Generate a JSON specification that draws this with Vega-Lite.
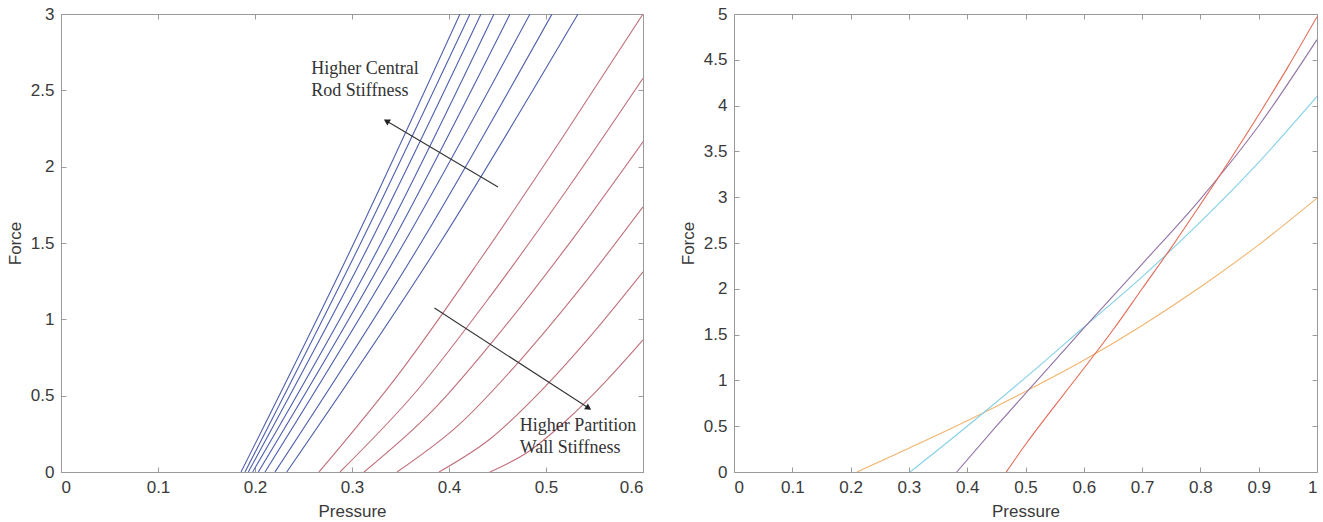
{
  "$schema": "https://vega.github.io/schema/vega-lite/v6.json",
  "background": "white",
  "padding": {"left": 6, "top": 5, "right": 3, "bottom": 0},
  "spacing": 35,
  "resolve": {"scale": {"color": "independent", "x": "independent", "y": "independent"}},
  "config": {
    "font": "Liberation Sans",
    "view": {"stroke": null},
    "axis": {
      "grid": false,
      "domainColor": "#9a9a9a",
      "tickColor": "#9a9a9a",
      "tickSize": -5,
      "labelPadding": 12,
      "labelFont": "Liberation Sans",
      "labelFontSize": 17,
      "labelColor": "#3a3a3a",
      "titleFont": "Liberation Sans",
      "titleFontSize": 17,
      "titleFontWeight": "normal",
      "titleColor": "#3a3a3a"
    }
  },
  "datasets": {
    "left": [
      {"s": "B1", "g": "rod", "x": 0.1856, "F": 0}, {"s": "B1", "g": "rod", "x": 0.302, "F": 1.5}, {"s": "B1", "g": "rod", "x": 0.4113, "F": 3},
      {"s": "B2", "g": "rod", "x": 0.1897, "F": 0}, {"s": "B2", "g": "rod", "x": 0.309, "F": 1.5}, {"s": "B2", "g": "rod", "x": 0.4216, "F": 3},
      {"s": "B3", "g": "rod", "x": 0.1931, "F": 0}, {"s": "B3", "g": "rod", "x": 0.3186, "F": 1.5}, {"s": "B3", "g": "rod", "x": 0.433, "F": 3},
      {"s": "B4", "g": "rod", "x": 0.1976, "F": 0}, {"s": "B4", "g": "rod", "x": 0.33, "F": 1.5}, {"s": "B4", "g": "rod", "x": 0.4464, "F": 3},
      {"s": "B5", "g": "rod", "x": 0.2034, "F": 0}, {"s": "B5", "g": "rod", "x": 0.341, "F": 1.5}, {"s": "B5", "g": "rod", "x": 0.4629, "F": 3},
      {"s": "B6", "g": "rod", "x": 0.2103, "F": 0}, {"s": "B6", "g": "rod", "x": 0.3536, "F": 1.5}, {"s": "B6", "g": "rod", "x": 0.4835, "F": 3},
      {"s": "B7", "g": "rod", "x": 0.2206, "F": 0}, {"s": "B7", "g": "rod", "x": 0.371, "F": 1.5}, {"s": "B7", "g": "rod", "x": 0.5062, "F": 3},
      {"s": "B8", "g": "rod", "x": 0.2327, "F": 0}, {"s": "B8", "g": "rod", "x": 0.3907, "F": 1.5}, {"s": "B8", "g": "rod", "x": 0.533, "F": 3},
      {"s": "R1", "g": "wall", "x": 0.266, "F": 0}, {"s": "R1", "g": "wall", "x": 0.3495, "F": 0.653}, {"s": "R1", "g": "wall", "x": 0.433, "F": 1.4}, {"s": "R1", "g": "wall", "x": 0.5165, "F": 2.186}, {"s": "R1", "g": "wall", "x": 0.6, "F": 3.0},
      {"s": "R2", "g": "wall", "x": 0.2876, "F": 0}, {"s": "R2", "g": "wall", "x": 0.3657, "F": 0.524}, {"s": "R2", "g": "wall", "x": 0.4438, "F": 1.162}, {"s": "R2", "g": "wall", "x": 0.5219, "F": 1.852}, {"s": "R2", "g": "wall", "x": 0.6, "F": 2.579},
      {"s": "R3", "g": "wall", "x": 0.3124, "F": 0}, {"s": "R3", "g": "wall", "x": 0.3843, "F": 0.41}, {"s": "R3", "g": "wall", "x": 0.4562, "F": 0.942}, {"s": "R3", "g": "wall", "x": 0.5281, "F": 1.532}, {"s": "R3", "g": "wall", "x": 0.6, "F": 2.163},
      {"s": "R4", "g": "wall", "x": 0.3464, "F": 0}, {"s": "R4", "g": "wall", "x": 0.4098, "F": 0.307}, {"s": "R4", "g": "wall", "x": 0.4732, "F": 0.73}, {"s": "R4", "g": "wall", "x": 0.5366, "F": 1.212}, {"s": "R4", "g": "wall", "x": 0.6, "F": 1.737},
      {"s": "R5", "g": "wall", "x": 0.3897, "F": 0}, {"s": "R5", "g": "wall", "x": 0.4423, "F": 0.216}, {"s": "R5", "g": "wall", "x": 0.4949, "F": 0.532}, {"s": "R5", "g": "wall", "x": 0.5474, "F": 0.902}, {"s": "R5", "g": "wall", "x": 0.6, "F": 1.311},
      {"s": "R6", "g": "wall", "x": 0.4423, "F": 0}, {"s": "R6", "g": "wall", "x": 0.4817, "F": 0.133}, {"s": "R6", "g": "wall", "x": 0.5212, "F": 0.339}, {"s": "R6", "g": "wall", "x": 0.5606, "F": 0.587}, {"s": "R6", "g": "wall", "x": 0.6, "F": 0.865}
    ],
    "notes": [
      {"x": 0.258, "F": 2.64, "text": "Higher Central"},
      {"x": 0.258, "F": 2.495, "text": "Rod Stiffness"},
      {"x": 0.473, "F": 0.301, "text": "Higher Partition"},
      {"x": 0.473, "F": 0.157, "text": "Wall Stiffness"}
    ],
    "arrows": [
      {"name": "rod", "x": 0.4505, "F": 1.867, "xt": 0.3356, "Ft": 2.299},
      {"name": "wall", "x": 0.385, "F": 1.074, "xt": 0.5439, "Ft": 0.419}
    ],
    "right": [
      {"s": "a", "x": 0.211, "F": 0}, {"s": "a", "x": 0.3, "F": 0.26}, {"s": "a", "x": 0.4, "F": 0.56}, {"s": "a", "x": 0.5, "F": 0.88}, {"s": "a", "x": 0.6, "F": 1.22}, {"s": "a", "x": 0.7, "F": 1.6}, {"s": "a", "x": 0.8, "F": 2.02}, {"s": "a", "x": 0.9, "F": 2.48}, {"s": "a", "x": 1.0, "F": 2.99},
      {"s": "b", "x": 0.302, "F": 0}, {"s": "b", "x": 0.4, "F": 0.5}, {"s": "b", "x": 0.5, "F": 1.03}, {"s": "b", "x": 0.6, "F": 1.58}, {"s": "b", "x": 0.7, "F": 2.13}, {"s": "b", "x": 0.8, "F": 2.73}, {"s": "b", "x": 0.9, "F": 3.38}, {"s": "b", "x": 1.0, "F": 4.1},
      {"s": "c", "x": 0.382, "F": 0}, {"s": "c", "x": 0.45, "F": 0.5}, {"s": "c", "x": 0.52, "F": 1.0}, {"s": "c", "x": 0.6, "F": 1.57}, {"s": "c", "x": 0.7, "F": 2.27}, {"s": "c", "x": 0.8, "F": 2.98}, {"s": "c", "x": 0.9, "F": 3.78}, {"s": "c", "x": 1.0, "F": 4.72},
      {"s": "d", "x": 0.467, "F": 0}, {"s": "d", "x": 0.5, "F": 0.3}, {"s": "d", "x": 0.55, "F": 0.72}, {"s": "d", "x": 0.6, "F": 1.13}, {"s": "d", "x": 0.65, "F": 1.55}, {"s": "d", "x": 0.7, "F": 2.0}, {"s": "d", "x": 0.75, "F": 2.45}, {"s": "d", "x": 0.8, "F": 2.92}, {"s": "d", "x": 0.85, "F": 3.4}, {"s": "d", "x": 0.9, "F": 3.9}, {"s": "d", "x": 0.95, "F": 4.42}, {"s": "d", "x": 1.0, "F": 4.97}
    ]
  },
  "hconcat": [
    {
      "width": 582,
      "height": 458,
      "resolve": {"axis": {"x": "independent", "y": "independent"}},
      "layer": [
        {
          "data": {"name": "left"},
          "mark": {"type": "line", "interpolate": "monotone", "strokeWidth": 1.1, "clip": true},
          "encoding": {
            "x": {"field": "x", "type": "quantitative", "scale": {"domain": [0, 0.6], "nice": false},
                  "axis": {"title": "Pressure", "values": [0, 0.1, 0.2, 0.3, 0.4, 0.5, 0.6], "format": "~g", "titlePadding": 8}},
            "y": {"field": "F", "type": "quantitative", "scale": {"domain": [0, 3], "nice": false},
                  "axis": {"title": "Force", "values": [0, 0.5, 1, 1.5, 2, 2.5, 3], "format": "~g", "titlePadding": 6}},
            "detail": {"field": "s"},
            "color": {"field": "g", "type": "nominal", "legend": null,
                      "scale": {"domain": ["rod", "wall"], "range": ["#4f5fae", "#c0707c"]}}
          }
        },
        {
          "data": {"name": "notes"},
          "mark": {"type": "text", "align": "left", "baseline": "middle", "font": "Liberation Serif", "fontSize": 18, "color": "#333333"},
          "encoding": {
            "x": {"field": "x", "type": "quantitative",
                  "axis": {"orient": "top", "title": null, "labels": false, "values": [0, 0.1, 0.2, 0.3, 0.4, 0.5, 0.6]}},
            "y": {"field": "F", "type": "quantitative",
                  "axis": {"orient": "right", "title": null, "labels": false, "values": [0, 0.5, 1, 1.5, 2, 2.5, 3]}},
            "text": {"field": "text"}
          }
        },
        {
          "data": {"name": "arrows"},
          "mark": {"type": "rule", "color": "#333333", "strokeWidth": 1.1},
          "encoding": {
            "x": {"field": "x", "type": "quantitative", "axis": null},
            "y": {"field": "F", "type": "quantitative", "axis": null},
            "x2": {"field": "xt"},
            "y2": {"field": "Ft"}
          }
        },
        {
          "data": {"name": "arrows"},
          "transform": [{"filter": "datum.name == 'rod'"}],
          "mark": {"type": "point", "shape": "triangle-up", "filled": true, "color": "#222222", "size": 50, "angle": 300.6, "opacity": 1},
          "encoding": {
            "x": {"field": "xt", "type": "quantitative", "axis": null},
            "y": {"field": "Ft", "type": "quantitative", "axis": null}
          }
        },
        {
          "data": {"name": "arrows"},
          "transform": [{"filter": "datum.name == 'wall'"}],
          "mark": {"type": "point", "shape": "triangle-up", "filled": true, "color": "#222222", "size": 50, "angle": 123, "opacity": 1},
          "encoding": {
            "x": {"field": "xt", "type": "quantitative", "axis": null},
            "y": {"field": "Ft", "type": "quantitative", "axis": null}
          }
        }
      ]
    },
    {
      "width": 583,
      "height": 458,
      "resolve": {"axis": {"x": "independent", "y": "independent"}},
      "layer": [
        {
          "data": {"name": "right"},
          "mark": {"type": "line", "interpolate": "monotone", "strokeWidth": 1.1, "clip": true},
          "encoding": {
            "x": {"field": "x", "type": "quantitative", "scale": {"domain": [0, 1], "nice": false},
                  "axis": {"title": "Pressure", "values": [0, 0.1, 0.2, 0.3, 0.4, 0.5, 0.6, 0.7, 0.8, 0.9, 1], "format": "~g", "titlePadding": 8}},
            "y": {"field": "F", "type": "quantitative", "scale": {"domain": [0, 5], "nice": false},
                  "axis": {"title": "Force", "values": [0, 0.5, 1, 1.5, 2, 2.5, 3, 3.5, 4, 4.5, 5], "format": "~g", "titlePadding": 6}},
            "color": {"field": "s", "type": "nominal", "legend": null,
                      "scale": {"domain": ["a", "b", "c", "d"], "range": ["#f2b46e", "#84d0e6", "#9273a6", "#e26a56"]}}
          }
        },
        {
          "data": {"name": "right"},
          "mark": {"type": "point", "opacity": 0, "size": 1},
          "encoding": {
            "x": {"field": "x", "type": "quantitative",
                  "axis": {"orient": "top", "title": null, "labels": false, "values": [0, 0.1, 0.2, 0.3, 0.4, 0.5, 0.6, 0.7, 0.8, 0.9, 1]}},
            "y": {"field": "F", "type": "quantitative",
                  "axis": {"orient": "right", "title": null, "labels": false, "values": [0, 0.5, 1, 1.5, 2, 2.5, 3, 3.5, 4, 4.5, 5]}}
          }
        }
      ]
    }
  ]
}
